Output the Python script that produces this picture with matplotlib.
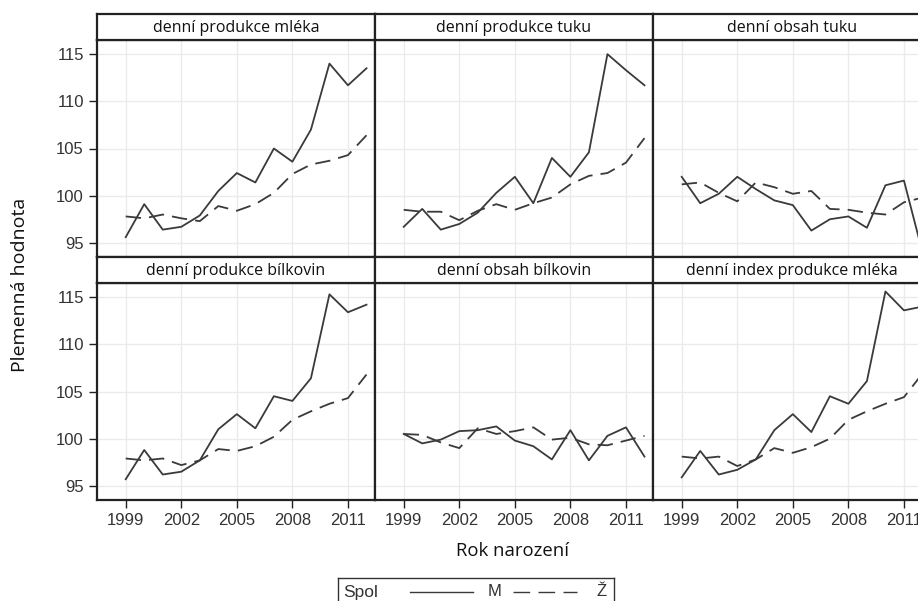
import matplotlib
matplotlib.use("Agg")
import matplotlib.pyplot as plt
from matplotlib.lines import Line2D

years = list(range(1999, 2013))
panel_titles = ["denní produkce mléka", "denní produkce tuku", "denní obsah tuku",
                "denní produkce bílkovin", "denní obsah bílkovin", "denní index produkce mléka"]

m_mleko = [95.6, 99.1, 96.4, 96.7, 97.9, 100.5, 102.4, 101.4, 105.0, 103.6, 107.0, 114.0, 111.7, 113.5]
z_mleko = [97.8, 97.6, 98.0, 97.6, 97.3, 98.9, 98.4, 99.1, 100.3, 102.3, 103.3, 103.7, 104.3, 106.4]
m_tuk = [96.7, 98.6, 96.4, 97.0, 98.2, 100.3, 102.0, 99.2, 104.0, 102.0, 104.6, 115.0, 113.3, 111.7]
z_tuk = [98.5, 98.3, 98.3, 97.4, 98.4, 99.1, 98.5, 99.2, 99.8, 101.2, 102.1, 102.4, 103.5, 106.1]
m_obsah_tuk = [102.0, 99.2, 100.2, 102.0, 100.7, 99.5, 99.0, 96.3, 97.5, 97.8, 96.6, 101.1, 101.6, 94.0]
z_obsah_tuk = [101.2, 101.4, 100.3, 99.4, 101.4, 100.9, 100.2, 100.5, 98.6, 98.5, 98.2, 98.0, 99.3, 99.8]
m_bilk = [95.7, 98.8, 96.2, 96.5, 97.7, 101.0, 102.6, 101.1, 104.5, 104.0, 106.4, 115.3, 113.4, 114.2]
z_bilk = [97.9, 97.7, 97.9, 97.2, 97.7, 98.9, 98.7, 99.2, 100.2, 102.0, 102.9, 103.7, 104.3, 106.8]
m_obsah_bilk = [100.5, 99.5, 99.9, 100.8, 100.9, 101.3, 99.8, 99.2, 97.8, 100.9, 97.7, 100.3, 101.2, 98.1]
z_obsah_bilk = [100.5, 100.4, 99.6, 99.0, 101.1, 100.5, 100.8, 101.2, 99.9, 100.1, 99.4, 99.3, 99.8, 100.3]
m_index = [95.9, 98.7, 96.2, 96.7, 97.8, 100.9, 102.6, 100.7, 104.5, 103.7, 106.1, 115.6, 113.6, 114.0]
z_index = [98.1, 97.9, 98.1, 97.1, 97.8, 99.0, 98.5, 99.1, 100.0, 102.0, 102.9, 103.7, 104.4, 106.9]

series_m = [m_mleko, m_tuk, m_obsah_tuk, m_bilk, m_obsah_bilk, m_index]
series_z = [z_mleko, z_tuk, z_obsah_tuk, z_bilk, z_obsah_bilk, z_index]

x_ticks = [1999, 2002, 2005, 2008, 2011]
y_ticks = [95, 100, 105, 110, 115]
legend_title = "Spol"
legend_labels = ["M", "Ž"]
x_label = "Rok narození"
y_label = "Plemenná hodnota"

W, H = 918, 601
fig = plt.figure(figsize=(W / 100, H / 100), dpi=100)
fig.patch.set_facecolor("white")

def rect(x0, y0, x1, y1):
    return [x0 / W, 1 - y1 / H, (x1 - x0) / W, (y1 - y0) / H]

col_x = [97, 375, 653]
pw = 278
rows = [(14, 40, 257), (257, 283, 500)]

line_col = "#3a3a3a"
frame_col = "#222222"
tick_font = dict(family="Liberation Sans", size=12, color="#333333")
label_font = ["Open Sans", "DejaVu Sans"]

for i in range(6):
    r, c = divmod(i, 3)
    ht, hb, pb = rows[r]
    x0 = col_x[c]
    ax = fig.add_axes(rect(x0, hb, x0 + pw, pb))
    ax.plot(years, series_m[i], color=line_col, lw=1.3, ls="-")
    ax.plot(years, series_z[i], color=line_col, lw=1.3, ls=(0, (8.5, 4.5)))
    ax.set_xlim(1997.45, 2012.46)
    ax.set_ylim(93.5, 116.5)
    ax.set_xticks(x_ticks)
    ax.set_yticks(y_ticks)
    ax.grid(True, color="#ebebeb", lw=1.0)
    ax.set_axisbelow(True)
    for s in ax.spines.values():
        s.set_color(frame_col)
        s.set_linewidth(1.6)
    ax.tick_params(direction="out", length=6, width=1, color=frame_col)
    if c == 0:
        ax.set_yticklabels([str(v) for v in y_ticks], fontdict=tick_font)
    else:
        ax.tick_params(axis="y", left=False, labelleft=False)
    if r == 1:
        ax.set_xticklabels([str(v) for v in x_ticks], fontdict=tick_font)
    else:
        ax.tick_params(axis="x", bottom=False, labelbottom=False)

    hax = fig.add_axes(rect(x0, ht, x0 + pw, hb))
    hax.set_xticks([])
    hax.set_yticks([])
    for s in hax.spines.values():
        s.set_color(frame_col)
        s.set_linewidth(1.6)
    hax.text(0.5, 0.45, panel_titles[i], ha="center", va="center",
             family=label_font, fontsize=11.5, color="#111111", transform=hax.transAxes)

fig.text(20 / W, 1 - 285 / H, y_label, rotation=90, ha="center", va="center",
         family=label_font, fontsize=14, color="#111111")
fig.text(512 / W, 1 - 551 / H, x_label, ha="center", va="center",
         family=label_font, fontsize=13.3, color="#111111")

# legend
lax = fig.add_axes(rect(338, 578, 614, 612))
lax.set_xlim(0, 276)
lax.set_ylim(34, 0)
lax.set_xticks([])
lax.set_yticks([])
for s in lax.spines.values():
    s.set_color("#333333")
    s.set_linewidth(1.0)
lax.text(5, 14, legend_title, ha="left", va="center", family="Liberation Sans", fontsize=12.5, color="#333333")
lax.add_line(Line2D([72, 135], [14, 14], color=line_col, lw=1.0))
lax.text(157, 14, legend_labels[0], ha="center", va="center", family="Liberation Sans", fontsize=12, color="#333333")
lax.add_line(Line2D([175, 239], [14, 14], color=line_col, lw=1.0, ls=(0, (12, 6))))
lax.text(264, 13, legend_labels[1], ha="center", va="center", family="Liberation Sans", fontsize=12, color="#333333")

fig.savefig("out.png", dpi=100)
